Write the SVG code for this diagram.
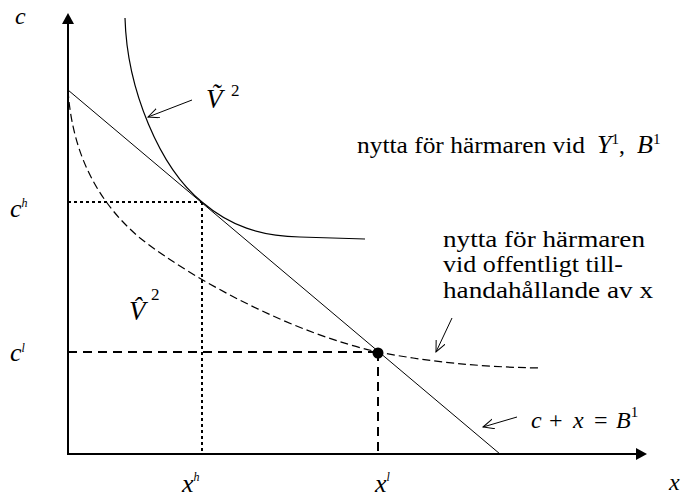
<svg xmlns="http://www.w3.org/2000/svg" width="687" height="498" viewBox="0 0 687 498">
<style>
text{font-family:'Liberation Serif','Times New Roman',Times,serif;fill:#000}
.i{font-style:italic}
.ln{fill:none;stroke:#000}
</style>
<defs>
<marker id="open" markerUnits="userSpaceOnUse" markerWidth="14" markerHeight="12" refX="11" refY="5" orient="auto">
<path d="M0,0 L11,5 L0,10" fill="none" stroke="#000" stroke-width="1"/>
</marker>
</defs>
<rect width="687" height="498" fill="#fff"/>
<g id="axes">
<line class="ln" x1="68" y1="454" x2="68" y2="22" stroke-width="2"/>
<polygon points="68,13 62,24 74,24" fill="#000"/>
<line class="ln" x1="67" y1="454" x2="637" y2="454" stroke-width="2"/>
<polygon points="647,454 636,448 636,460" fill="#000"/>
</g>
<g id="connectors">
<line class="ln" x1="68" y1="90" x2="500" y2="454" stroke-width="1"/>
<path class="ln" d="M125,18 C127,90 160,168 202,202 C230,226 260,236 300,237 L365,239" stroke-width="1.2"/>
<path class="ln" d="M68,90 C72,150 95,200 140,238 C200,285 300,335 378,352 C430,362 480,367 540,368" stroke-width="1.2" stroke-dasharray="8,4"/>
<line class="ln" x1="68" y1="202" x2="202" y2="202" stroke-width="2" stroke-dasharray="3,3"/>
<line class="ln" x1="202" y1="202" x2="202" y2="454" stroke-width="2" stroke-dasharray="3,3"/>
<line class="ln" x1="68" y1="352" x2="378" y2="352" stroke-width="2" stroke-dasharray="9,6"/>
<line class="ln" x1="378" y1="352" x2="378" y2="454" stroke-width="2" stroke-dasharray="9,6"/>
<circle cx="378" cy="353" r="5.5" fill="#000"/>
<line class="ln" x1="192" y1="100" x2="148" y2="117" stroke-width="1" marker-end="url(#open)"/>
<line class="ln" x1="452" y1="318" x2="436" y2="352" stroke-width="1" marker-end="url(#open)"/>
<line class="ln" x1="517" y1="417" x2="483" y2="427" stroke-width="1" marker-end="url(#open)"/>
</g>
<g id="labels">
<text class="i" x="15" y="24" font-size="24">c</text>
<text class="i" x="10" y="217" font-size="26">c<tspan font-size="12" dy="-10">h</tspan></text>
<text class="i" x="10" y="361" font-size="26">c<tspan font-size="12" dy="-9">l</tspan></text>
<text class="i" x="182" y="492" font-size="26">x<tspan font-size="12" dy="-11">h</tspan></text>
<text class="i" x="375" y="492" font-size="26">x<tspan font-size="12" dy="-11">l</tspan></text>
<text class="i" x="669" y="490" font-size="24">x</text>
<text x="206" y="108" font-size="27"><tspan class="i">V&#771;</tspan><tspan x="231" y="96" font-size="17">2</tspan></text>
<text x="129" y="320" font-size="27"><tspan class="i">V&#770;</tspan><tspan x="151" y="300" font-size="17">2</tspan></text>
<text x="357" y="153" font-size="23.5"><tspan textLength="228" lengthAdjust="spacingAndGlyphs">nytta för härmaren vid</tspan><tspan class="i" x="597" font-size="26">Y</tspan><tspan font-size="15" dy="-9">1</tspan><tspan dy="9">, </tspan><tspan class="i" x="637" font-size="26">B</tspan><tspan font-size="15" dy="-9">1</tspan></text>
<text x="443" y="247" font-size="23.5" textLength="202" lengthAdjust="spacingAndGlyphs">nytta för härmaren</text>
<text x="443" y="272" font-size="23.5" textLength="180" lengthAdjust="spacingAndGlyphs">vid offentligt till-</text>
<text x="443" y="298" font-size="23.5" textLength="210" lengthAdjust="spacingAndGlyphs">handahållande av x</text>
<text x="531" y="428" font-size="24"><tspan class="i">c</tspan><tspan x="549">+</tspan><tspan class="i" x="573">x</tspan><tspan x="594">=</tspan><tspan class="i" x="616">B</tspan><tspan font-size="15" dy="-11">1</tspan></text>
</g>
</svg>
